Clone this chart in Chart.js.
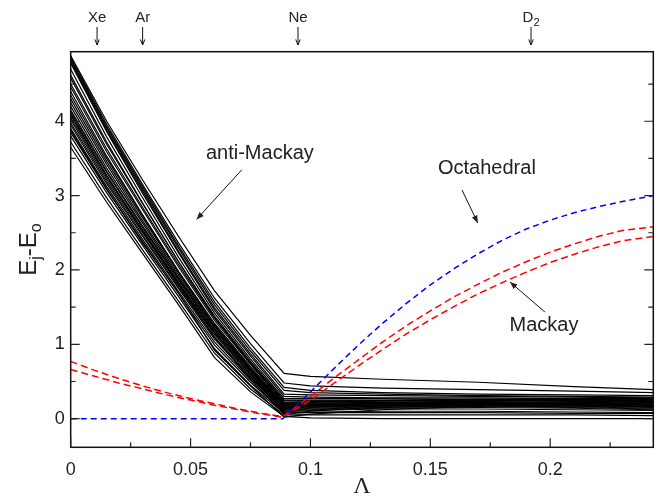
<!DOCTYPE html>
<html><head><meta charset="utf-8">
<script src="https://cdn.jsdelivr.net/npm/chart.js@4"></script>
<style>html,body{margin:0;padding:0;background:#fff;overflow:hidden}</style>
</head><body>
<canvas id="c" width="672" height="497"></canvas>
<script>
// ---- data ----
const blackX = [0, 0.015, 0.03, 0.045, 0.06, 0.075, 0.089, 0.1, 0.13, 0.17, 0.21, 0.243];
const blackSeries = [
  [4.88, 4.00, 3.21, 2.45, 1.72, 1.12, 0.61, 0.57, 0.53, 0.49, 0.43, 0.39],
  [4.86, 3.96, 3.15, 2.36, 1.62, 1.01, 0.48, 0.44, 0.41, 0.39, 0.37, 0.35],
  [4.84, 3.93, 3.12, 2.32, 1.57, 0.95, 0.42, 0.38, 0.35, 0.33, 0.32, 0.31],
  [4.82, 3.91, 3.09, 2.29, 1.53, 0.91, 0.38, 0.35, 0.33, 0.31, 0.30, 0.29],
  [4.80, 3.88, 3.06, 2.25, 1.49, 0.87, 0.33, 0.32, 0.31, 0.30, 0.29, 0.28],
  [4.78, 3.86, 3.03, 2.23, 1.46, 0.84, 0.30, 0.29, 0.28, 0.28, 0.27, 0.27],
  [4.70, 3.79, 2.97, 2.17, 1.42, 0.80, 0.27, 0.27, 0.27, 0.26, 0.26, 0.25],
  [4.58, 3.69, 2.89, 2.11, 1.38, 0.77, 0.25, 0.25, 0.25, 0.26, 0.25, 0.24],
  [4.50, 3.63, 2.84, 2.07, 1.35, 0.75, 0.24, 0.24, 0.24, 0.24, 0.24, 0.23],
  [4.46, 3.59, 2.81, 2.04, 1.32, 0.73, 0.22, 0.23, 0.24, 0.25, 0.24, 0.22],
  [4.35, 3.50, 2.73, 1.98, 1.28, 0.70, 0.20, 0.21, 0.22, 0.23, 0.22, 0.21],
  [4.30, 3.46, 2.70, 1.96, 1.26, 0.68, 0.19, 0.20, 0.22, 0.22, 0.21, 0.20],
  [4.25, 3.42, 2.66, 1.93, 1.24, 0.67, 0.18, 0.19, 0.21, 0.22, 0.21, 0.19],
  [4.20, 3.37, 2.63, 1.90, 1.22, 0.65, 0.17, 0.18, 0.20, 0.21, 0.20, 0.18],
  [4.15, 3.33, 2.59, 1.88, 1.20, 0.64, 0.16, 0.17, 0.19, 0.20, 0.19, 0.17],
  [4.12, 3.31, 2.57, 1.86, 1.18, 0.63, 0.15, 0.16, 0.18, 0.20, 0.18, 0.16],
  [4.08, 3.27, 2.54, 1.83, 1.16, 0.61, 0.14, 0.16, 0.18, 0.19, 0.18, 0.16],
  [4.05, 3.25, 2.52, 1.82, 1.15, 0.60, 0.13, 0.15, 0.17, 0.18, 0.17, 0.15],
  [4.02, 3.22, 2.50, 1.80, 1.13, 0.59, 0.12, 0.14, 0.16, 0.17, 0.16, 0.14],
  [3.98, 3.19, 2.47, 1.77, 1.10, 0.57, 0.11, 0.13, 0.15, 0.16, 0.15, 0.13],
  [3.95, 3.16, 2.45, 1.75, 1.07, 0.55, 0.10, 0.12, 0.14, 0.15, 0.14, 0.12],
  [3.90, 3.12, 2.41, 1.71, 1.03, 0.52, 0.09, 0.11, 0.13, 0.13, 0.12, 0.11],
  [3.85, 3.08, 2.38, 1.68, 0.99, 0.49, 0.08, 0.09, 0.10, 0.10, 0.09, 0.08],
  [3.80, 3.04, 2.33, 1.64, 0.94, 0.45, 0.07, 0.08, 0.08, 0.08, 0.07, 0.07],
  [3.72, 2.97, 2.27, 1.58, 0.88, 0.40, 0.05, 0.05, 0.05, 0.05, 0.05, 0.04],
  [3.65, 2.91, 2.22, 1.53, 0.82, 0.36, 0.03, 0.01, 0.00, 0.00, 0.00, 0.00],
  [4.62, 3.72, 2.90, 2.11, 1.36, 0.74, 0.21, 0.22, 0.24, 0.26, 0.27, 0.26],
  [4.40, 3.53, 2.74, 1.97, 1.25, 0.66, 0.14, 0.17, 0.21, 0.24, 0.25, 0.25],
  [4.10, 3.27, 2.52, 1.80, 1.09, 0.53, 0.06, 0.10, 0.16, 0.21, 0.23, 0.22],
  [3.88, 3.09, 2.36, 1.69, 0.92, 0.44, 0.02, 0.06, 0.12, 0.17, 0.20, 0.19]
];
const blueX = [0, 0.0885, 0.1, 0.11, 0.12, 0.13, 0.14, 0.15, 0.16, 0.17, 0.18, 0.19, 0.2, 0.21, 0.22, 0.23, 0.243];
const blueY = [0, 0, 0.36, 0.68, 0.99, 1.28, 1.55, 1.80, 2.02, 2.22, 2.40, 2.55, 2.67, 2.77, 2.85, 2.92, 3.0];
const redX = [0, 0.01, 0.02, 0.03, 0.04, 0.05, 0.06, 0.07, 0.08, 0.0885, 0.1, 0.11, 0.12, 0.13, 0.14, 0.15, 0.16, 0.17, 0.18, 0.19, 0.2, 0.21, 0.22, 0.23, 0.243];
const redUpperY = [0.77, 0.65, 0.54, 0.44, 0.35, 0.27, 0.20, 0.13, 0.07, 0.03, 0.30, 0.55, 0.79, 1.03, 1.25, 1.45, 1.64, 1.81, 1.97, 2.11, 2.24, 2.35, 2.45, 2.53, 2.58];
const redLowerY = [0.66, 0.57, 0.48, 0.40, 0.32, 0.25, 0.18, 0.12, 0.06, 0.02, 0.25, 0.48, 0.71, 0.93, 1.14, 1.33, 1.51, 1.68, 1.83, 1.97, 2.10, 2.21, 2.31, 2.39, 2.45];

const xTicks = [0, 0.05, 0.1, 0.15, 0.2];
const xTickLabels = ["0", "0.05", "0.1", "0.15", "0.2"];
const xMinorTicks = [0.025, 0.075, 0.125, 0.175, 0.225];
const yTicks = [0, 1, 2, 3, 4];
const yTickLabels = ["0", "1", "2", "3", "4"];
const yMinorTicks = [0.5, 1.5, 2.5, 3.5, 4.5];

const topMarkX = [0.011, 0.030, 0.0948, 0.192];
const topMarkText = ["Xe", "Ar", "Ne", "D"];
const topMarkSub = ["", "", "", "2"];

const noteText = ["anti-Mackay", "Octahedral", "Mackay"];
const noteTextX = [0.0789, 0.1736, 0.1974];
const noteTextY = [3.57, 3.37, 1.25];
const noteFromX = [0.0713, 0.1632, 0.1978];
const noteFromY = [3.345, 3.076, 1.434];
const noteToX = [0.0525, 0.1698, 0.1832];
const noteToY = [2.68, 2.632, 1.838];

// ---- build datasets ----
const pts = (xs, ys) => xs.map((x, i) => ({x: x, y: ys[i]}));
const datasets = [];
datasets.push({data: pts(blueX, blueY), borderColor: '#0000ff', borderWidth: 1.5, borderDash: [6, 4]});
datasets.push({data: pts(redX, redUpperY), borderColor: '#ff0000', borderWidth: 1.5, borderDash: [7, 4]});
datasets.push({data: pts(redX, redLowerY), borderColor: '#ff0000', borderWidth: 1.5, borderDash: [7, 4]});
blackSeries.forEach(s => datasets.push({data: pts(blackX, s), borderColor: '#000', borderWidth: 1.2}));

const FONT = '"Liberation Sans", Arial, sans-serif';
const INK = '#222';

function arrowLine(ctx, x1, y1, x2, y2, head, filled) {
  ctx.beginPath(); ctx.moveTo(x1, y1); ctx.lineTo(x2, y2); ctx.stroke();
  const ang = Math.atan2(y2 - y1, x2 - x1);
  const w = 0.38;
  const ax = x2 - head * Math.cos(ang - w), ay = y2 - head * Math.sin(ang - w);
  const bx = x2 - head * Math.cos(ang + w), by = y2 - head * Math.sin(ang + w);
  ctx.beginPath();
  ctx.moveTo(ax, ay); ctx.lineTo(x2, y2); ctx.lineTo(bx, by);
  if (filled) { ctx.closePath(); ctx.fill(); } else ctx.stroke();
}

const deco = {
  id: 'deco',
  afterDraw(chart) {
    const ctx = chart.ctx, xs = chart.scales.x, ys = chart.scales.y, a = chart.chartArea;
    ctx.save();
    ctx.strokeStyle = '#111'; ctx.fillStyle = INK; ctx.lineWidth = 1.5;
    ctx.strokeRect(a.left, a.top, a.right - a.left, a.bottom - a.top);
    ctx.lineWidth = 1.2; ctx.strokeStyle = '#222';
    const maj = 9, mn = 5;
    ctx.beginPath();
    xTicks.forEach(v => { const p = xs.getPixelForValue(v); ctx.moveTo(p, a.bottom); ctx.lineTo(p, a.bottom - maj); });
    xMinorTicks.forEach(v => { const p = xs.getPixelForValue(v); ctx.moveTo(p, a.bottom); ctx.lineTo(p, a.bottom - mn); });
    yTicks.forEach(v => { const p = ys.getPixelForValue(v);
      ctx.moveTo(a.left, p); ctx.lineTo(a.left + maj, p); ctx.moveTo(a.right, p); ctx.lineTo(a.right - maj, p); });
    yMinorTicks.forEach(v => { const p = ys.getPixelForValue(v);
      ctx.moveTo(a.left, p); ctx.lineTo(a.left + mn, p); ctx.moveTo(a.right, p); ctx.lineTo(a.right - mn, p); });
    ctx.stroke();

    ctx.fillStyle = INK;
    ctx.font = '24px "Liberation Serif", "Times New Roman", serif';
    ctx.textAlign = 'center'; ctx.textBaseline = 'alphabetic';
    ctx.fillText('Λ', (a.left + a.right) / 2, 493);

    ctx.save();
    ctx.translate(36, (a.top + a.bottom) / 2);
    ctx.rotate(-Math.PI / 2);
    const big = '24px ' + FONT, small = '16px ' + FONT;
    const parts = [['E', big, 0], ['j', small, 5], ['-E', big, 0], ['o', small, 5]];
    let total = 0;
    parts.forEach(p => { ctx.font = p[1]; total += ctx.measureText(p[0]).width; });
    let cx = -total / 2;
    ctx.textAlign = 'left';
    parts.forEach(p => { ctx.font = p[1]; ctx.fillText(p[0], cx, p[2]); cx += ctx.measureText(p[0]).width; });
    ctx.restore();

    ctx.lineWidth = 1; ctx.strokeStyle = '#111';
    topMarkX.forEach((v, i) => {
      const p = xs.getPixelForValue(v);
      ctx.font = '15px ' + FONT; ctx.textAlign = 'left';
      const w1 = ctx.measureText(topMarkText[i]).width;
      ctx.font = '11px ' + FONT;
      const w2 = topMarkSub[i] ? ctx.measureText(topMarkSub[i]).width : 0;
      const x0 = p - (w1 + w2) / 2;
      ctx.font = '15px ' + FONT;
      ctx.fillText(topMarkText[i], x0, 22);
      if (topMarkSub[i]) { ctx.font = '11px ' + FONT; ctx.fillText(topMarkSub[i], x0 + w1, 26); }
      arrowLine(ctx, p, 27, p, 45, 6, false);
    });

    ctx.font = '20px ' + FONT; ctx.textAlign = 'center'; ctx.textBaseline = 'middle';
    noteText.forEach((t, i) => {
      ctx.fillText(t, xs.getPixelForValue(noteTextX[i]), ys.getPixelForValue(noteTextY[i]));
      arrowLine(ctx, xs.getPixelForValue(noteFromX[i]), ys.getPixelForValue(noteFromY[i]),
        xs.getPixelForValue(noteToX[i]), ys.getPixelForValue(noteToY[i]), 8, true);
    });
    ctx.restore();
  }
};

new Chart(document.getElementById('c'), {
  type: 'line',
  data: {datasets: datasets},
  options: {
    responsive: false, animation: false, devicePixelRatio: 1,
    layout: {padding: {left: 0, right: 18.7, top: 51.7, bottom: 0}},
    elements: {point: {radius: 0}, line: {tension: 0, fill: false}},
    plugins: {legend: {display: false}, tooltip: {enabled: false}, title: {display: false}},
    scales: {
      x: {
        type: 'linear', min: 0, max: 0.243,
        grid: {display: false, drawTicks: false}, border: {display: false},
        afterBuildTicks: s => { s.ticks = xTicks.map(v => ({value: v})); },
        afterFit: s => { s.height = 497 - 51.7 - 395.6; },
        ticks: {padding: 12, font: {size: 18, family: FONT}, color: INK, maxRotation: 0,
          callback: (v, i) => xTickLabels[i]}
      },
      y: {
        type: 'linear', min: -0.385, max: 4.935,
        grid: {display: false, drawTicks: false}, border: {display: false},
        afterBuildTicks: s => { s.ticks = yTicks.map(v => ({value: v})); },
        afterFit: s => { s.width = 70.7; },
        ticks: {padding: 6, font: {size: 18, family: FONT}, color: INK,
          callback: (v, i) => yTickLabels[i]}
      }
    }
  },
  plugins: [deco]
});
</script>
</body></html>
